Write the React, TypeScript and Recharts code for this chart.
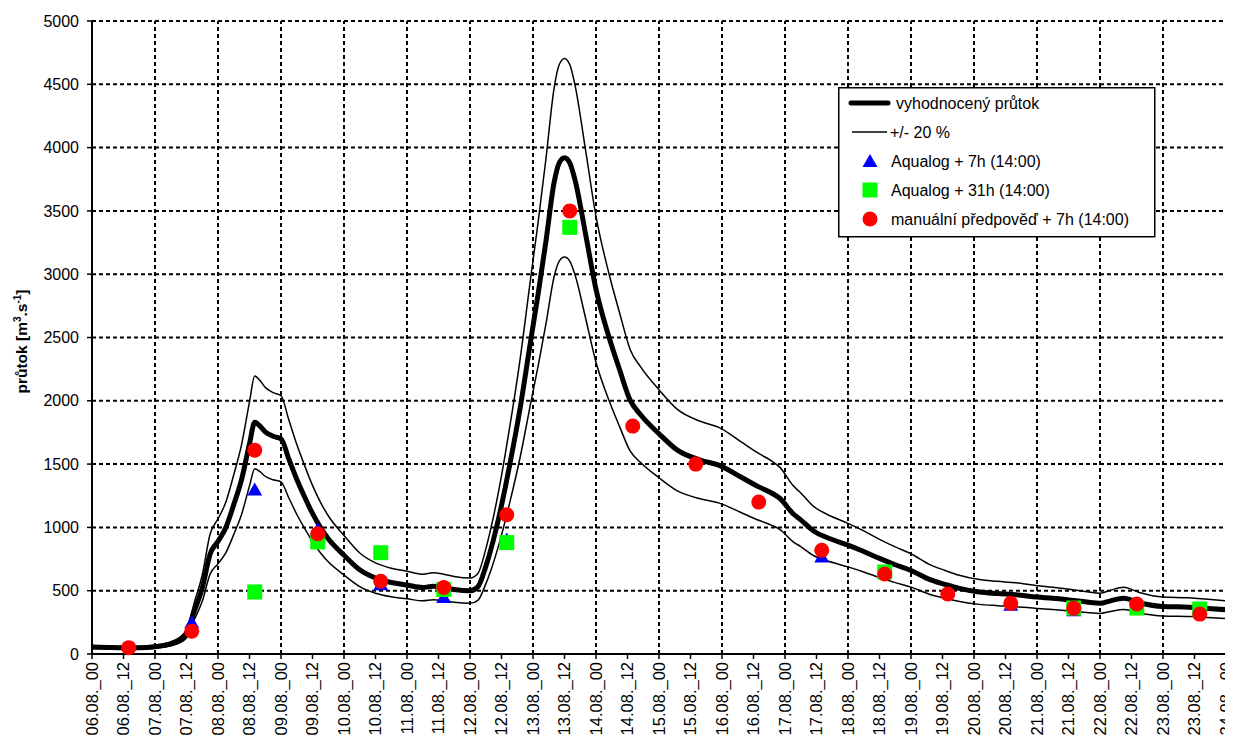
import React from 'react';
import { ComposedChart, Line, Scatter, XAxis, YAxis, CartesianGrid, ReferenceLine, Legend, Label } from 'recharts';

const FONT = '"Liberation Sans", Arial, sans-serif';

// hours since 06.08. 00:00
const hours = [0, 6, 12, 18, 24, 30, 33, 36, 39, 42, 45, 48, 51, 54, 57, 60, 62, 64, 66, 69, 72, 75, 78, 81, 84, 87, 90, 96, 102, 108, 114, 120, 126, 130, 134, 138, 144, 147, 150, 152, 155, 159, 163, 167, 170, 173, 176, 178, 180, 182, 184, 188, 192, 197, 201, 205, 209, 216, 223, 232, 239, 247, 254, 259, 262, 267, 270, 275, 280, 288, 294, 300, 306, 312, 319, 325, 330, 338, 345, 352, 360, 366, 373, 379, 384, 388, 393, 399, 408, 418, 425, 432];
const mainFlow = [55, 52, 50, 50, 58, 80, 105, 160, 340, 520, 790, 890, 1000, 1180, 1380, 1660, 1830, 1800, 1755, 1720, 1700, 1540, 1380, 1240, 1110, 1000, 910, 780, 665, 600, 565, 545, 525, 535, 525, 510, 500, 530, 690, 830, 1080, 1480, 1930, 2460, 2850, 3270, 3720, 3880, 3920, 3880, 3745, 3320, 2880, 2500, 2245, 2005, 1890, 1740, 1610, 1530, 1490, 1400, 1320, 1270, 1230, 1110, 1060, 970, 920, 860, 810, 755, 705, 660, 590, 550, 520, 490, 478, 468, 450, 440, 425, 410, 400, 420, 440, 405, 375, 370, 360, 350];
const upperFlow = [66, 62, 60, 60, 70, 96, 126, 192, 408, 624, 948, 1068, 1200, 1416, 1656, 1992, 2196, 2160, 2106, 2064, 2040, 1848, 1656, 1488, 1332, 1200, 1092, 936, 798, 720, 678, 654, 630, 642, 630, 612, 600, 636, 828, 996, 1296, 1776, 2316, 2952, 3420, 3924, 4464, 4656, 4704, 4656, 4494, 3984, 3456, 3000, 2694, 2406, 2268, 2088, 1932, 1836, 1788, 1680, 1584, 1524, 1476, 1332, 1272, 1164, 1104, 1032, 972, 906, 846, 792, 708, 660, 624, 588, 574, 562, 540, 528, 510, 492, 480, 504, 528, 486, 450, 444, 432, 420];
const lowerFlow = [44, 42, 40, 40, 46, 64, 84, 128, 272, 416, 632, 712, 800, 944, 1104, 1328, 1464, 1440, 1404, 1376, 1360, 1232, 1104, 992, 888, 800, 728, 624, 532, 480, 452, 436, 420, 428, 420, 408, 400, 424, 552, 664, 864, 1184, 1544, 1968, 2280, 2616, 2976, 3104, 3136, 3104, 2996, 2656, 2304, 2000, 1796, 1604, 1512, 1392, 1288, 1224, 1192, 1120, 1056, 1016, 984, 888, 848, 776, 736, 688, 648, 604, 564, 528, 472, 440, 416, 392, 382, 374, 360, 352, 340, 328, 320, 336, 352, 324, 300, 296, 288, 280];

// forecasts at 14:00 each day (06.08. ... 23.08.)
const forecastHours = [14, 38, 62, 86, 110, 134, 158, 182, 206, 230, 254, 278, 302, 326, 350, 374, 398, 422];
const manualForecast = [50, 180, 1610, 950, 575, 525, 1100, 3500, 1800, 1500, 1200, 820, 632, 474, 400, 362, 395, 315];
const aqualog7h = [null, 250, 1300, 985, 550, 450, 905, null, null, null, null, 770, null, null, 390, 345, null, null];
const aqualog31h = [null, null, 490, 885, 800, 510, 880, 3370, null, null, null, null, 648, null, null, 363, 363, 355];

const dayLabels = ['06.08.', '07.08.', '08.08.', '09.08.', '10.08.', '11.08.', '12.08.', '13.08.', '14.08.', '15.08.', '16.08.', '17.08.', '18.08.', '19.08.', '20.08.', '21.08.', '22.08.', '23.08.', '24.08.'];
const yTicks = [0, 500, 1000, 1500, 2000, 2500, 3000, 3500, 4000, 4500, 5000];

const xTickLabels: string[] = [];
const xTicks: number[] = [];
dayLabels.forEach((d, i) => {
  xTickLabels.push(d + '_00');
  xTicks.push(i * 24);
  if (i < dayLabels.length - 1) {
    xTickLabels.push(d + '_12');
    xTicks.push(i * 24 + 12);
  }
});
const dayLines = xTicks.filter((t) => t % 24 === 0 && t > 0);

const rows = hours.map((h, i) => ({ h, main: mainFlow[i], upper: upperFlow[i], lower: lowerFlow[i] }));
const toPoints = (vals: (number | null)[]) =>
  forecastHours.map((h, i) => ({ h, v: vals[i] })).filter((p) => p.v !== null);
const manualPts = toPoints(manualForecast);
const aq7Pts = toPoints(aqualog7h);
const aq31Pts = toPoints(aqualog31h);

const Triangle = (p: any) => {
  const { cx, cy } = p;
  if (cx == null || cy == null) return null;
  return <path d={`M${cx},${cy - 7} L${cx + 7.5},${cy + 6} L${cx - 7.5},${cy + 6} Z`} fill="#0000ff" />;
};
const Square = (p: any) => {
  const { cx, cy } = p;
  if (cx == null || cy == null) return null;
  return <rect x={cx - 7.5} y={cy - 7.5} width={15} height={15} fill="#00ff00" />;
};
const Dot = (p: any) => {
  const { cx, cy } = p;
  if (cx == null || cy == null) return null;
  return <circle cx={cx} cy={cy} r={7.5} fill="#ff0000" />;
};

const XTick = (props: any) => {
  const { x, y, payload } = props;
  const label = xTickLabels[Math.round(payload.value / 12)];
  return (
    <text x={x} y={y} transform={`rotate(-90, ${x}, ${y})`} textAnchor="end" dy="0.35em" fontSize={16.5} fontFamily={FONT} fill="#000">
      {label}
    </text>
  );
};

const YTitle = (props: any) => {
  const vb = props.viewBox || { x: 0, y: 0, width: 0, height: 0 };
  const cx = vb.x + 14;
  const cy = vb.y + vb.height / 2 + 4;
  return (
    <text x={cx} y={cy} transform={`rotate(-90, ${cx}, ${cy})`} textAnchor="middle" dy="0.35em" fontSize={15.5} fontWeight="bold" fontFamily={FONT} fill="#000">
      průtok [m<tspan dy={-6} fontSize={10}>3</tspan><tspan dy={6}>.s</tspan><tspan dy={-6} fontSize={10}>-1</tspan><tspan dy={6}>]</tspan>
    </text>
  );
};

const legendRows = ['vyhodnocený průtok', '+/- 20 %', 'Aqualog + 7h (14:00)', 'Aqualog + 31h (14:00)', 'manuální předpověď + 7h (14:00)'];

const LegendBox = () => (
  <svg width={318} height={151} style={{ display: 'block' }}>
    <rect x={0.75} y={0.75} width={316} height={149} fill="#fff" stroke="#000" strokeWidth={1.5} />
    <line x1={13} x2={50} y1={16} y2={16} stroke="#000" strokeWidth={5} strokeLinecap="round" />
    <text x={58} y={16} dy="0.35em" fontSize={16} fontFamily={FONT}>{legendRows[0]}</text>
    <line x1={14} x2={49} y1={45} y2={45} stroke="#000" strokeWidth={1.5} />
    <text x={52} y={45} dy="0.35em" fontSize={16} fontFamily={FONT}>{legendRows[1]}</text>
    <Triangle cx={32} cy={74} />
    <text x={53} y={74} dy="0.35em" fontSize={16} fontFamily={FONT}>{legendRows[2]}</text>
    <Square cx={32} cy={103} />
    <text x={53} y={103} dy="0.35em" fontSize={16} fontFamily={FONT}>{legendRows[3]}</text>
    <Dot cx={32} cy={132} />
    <text x={53} y={132} dy="0.35em" fontSize={16} fontFamily={FONT}>{legendRows[4]}</text>
  </svg>
);

export default function App() {
  return (
    <div style={{ width: 1225, height: 736, fontFamily: FONT }}>
      <style>{'.recharts-surface{overflow:visible}'}</style>
      <ComposedChart width={1225} height={736} data={rows} margin={{ top: 13, right: 7, bottom: 0, left: 0 }}>
        <CartesianGrid vertical={false} stroke="#000" strokeWidth={2} strokeDasharray="4 3" />
        {dayLines.map((d) => (
          <ReferenceLine key={d} x={d} stroke="#000" strokeWidth={2} strokeDasharray="4 3" />
        ))}
        <XAxis
          dataKey="h"
          type="number"
          domain={[0, 432]}
          ticks={xTicks}
          interval={0}
          height={90}
          tick={<XTick />}
          tickSize={5}
          tickMargin={3}
          axisLine={{ stroke: '#000', strokeWidth: 2 }}
          tickLine={{ stroke: '#000', strokeWidth: 1.5 }}
          allowDataOverflow
        />
        <YAxis
          type="number"
          domain={[0, 5000]}
          ticks={yTicks}
          interval={0}
          width={84}
          tickSize={5}
          tickMargin={8}
          tick={{ fill: '#000', fontSize: 16, fontFamily: FONT }}
          axisLine={{ stroke: '#000', strokeWidth: 2 }}
          tickLine={{ stroke: '#000', strokeWidth: 1.5 }}
        >
          <Label content={<YTitle />} />
        </YAxis>
        <Line dataKey="upper" type="monotone" stroke="#000" strokeWidth={1.5} dot={false} activeDot={false} isAnimationActive={false} />
        <Line dataKey="lower" type="monotone" stroke="#000" strokeWidth={1.5} dot={false} activeDot={false} isAnimationActive={false} />
        <Line dataKey="main" type="monotone" stroke="#000" strokeWidth={5} dot={false} activeDot={false} isAnimationActive={false} />
        <Scatter data={aq7Pts} dataKey="v" shape={<Triangle />} isAnimationActive={false} />
        <Scatter data={aq31Pts} dataKey="v" shape={<Square />} isAnimationActive={false} />
        <Scatter data={manualPts} dataKey="v" shape={<Dot />} isAnimationActive={false} />
        <Legend
          layout="vertical"
          align="center"
          verticalAlign="middle"
          content={() => <LegendBox />}
          wrapperStyle={{ position: 'absolute', left: 830, top: 79, width: 318, height: 151 }}
        />
      </ComposedChart>
    </div>
  );
}
